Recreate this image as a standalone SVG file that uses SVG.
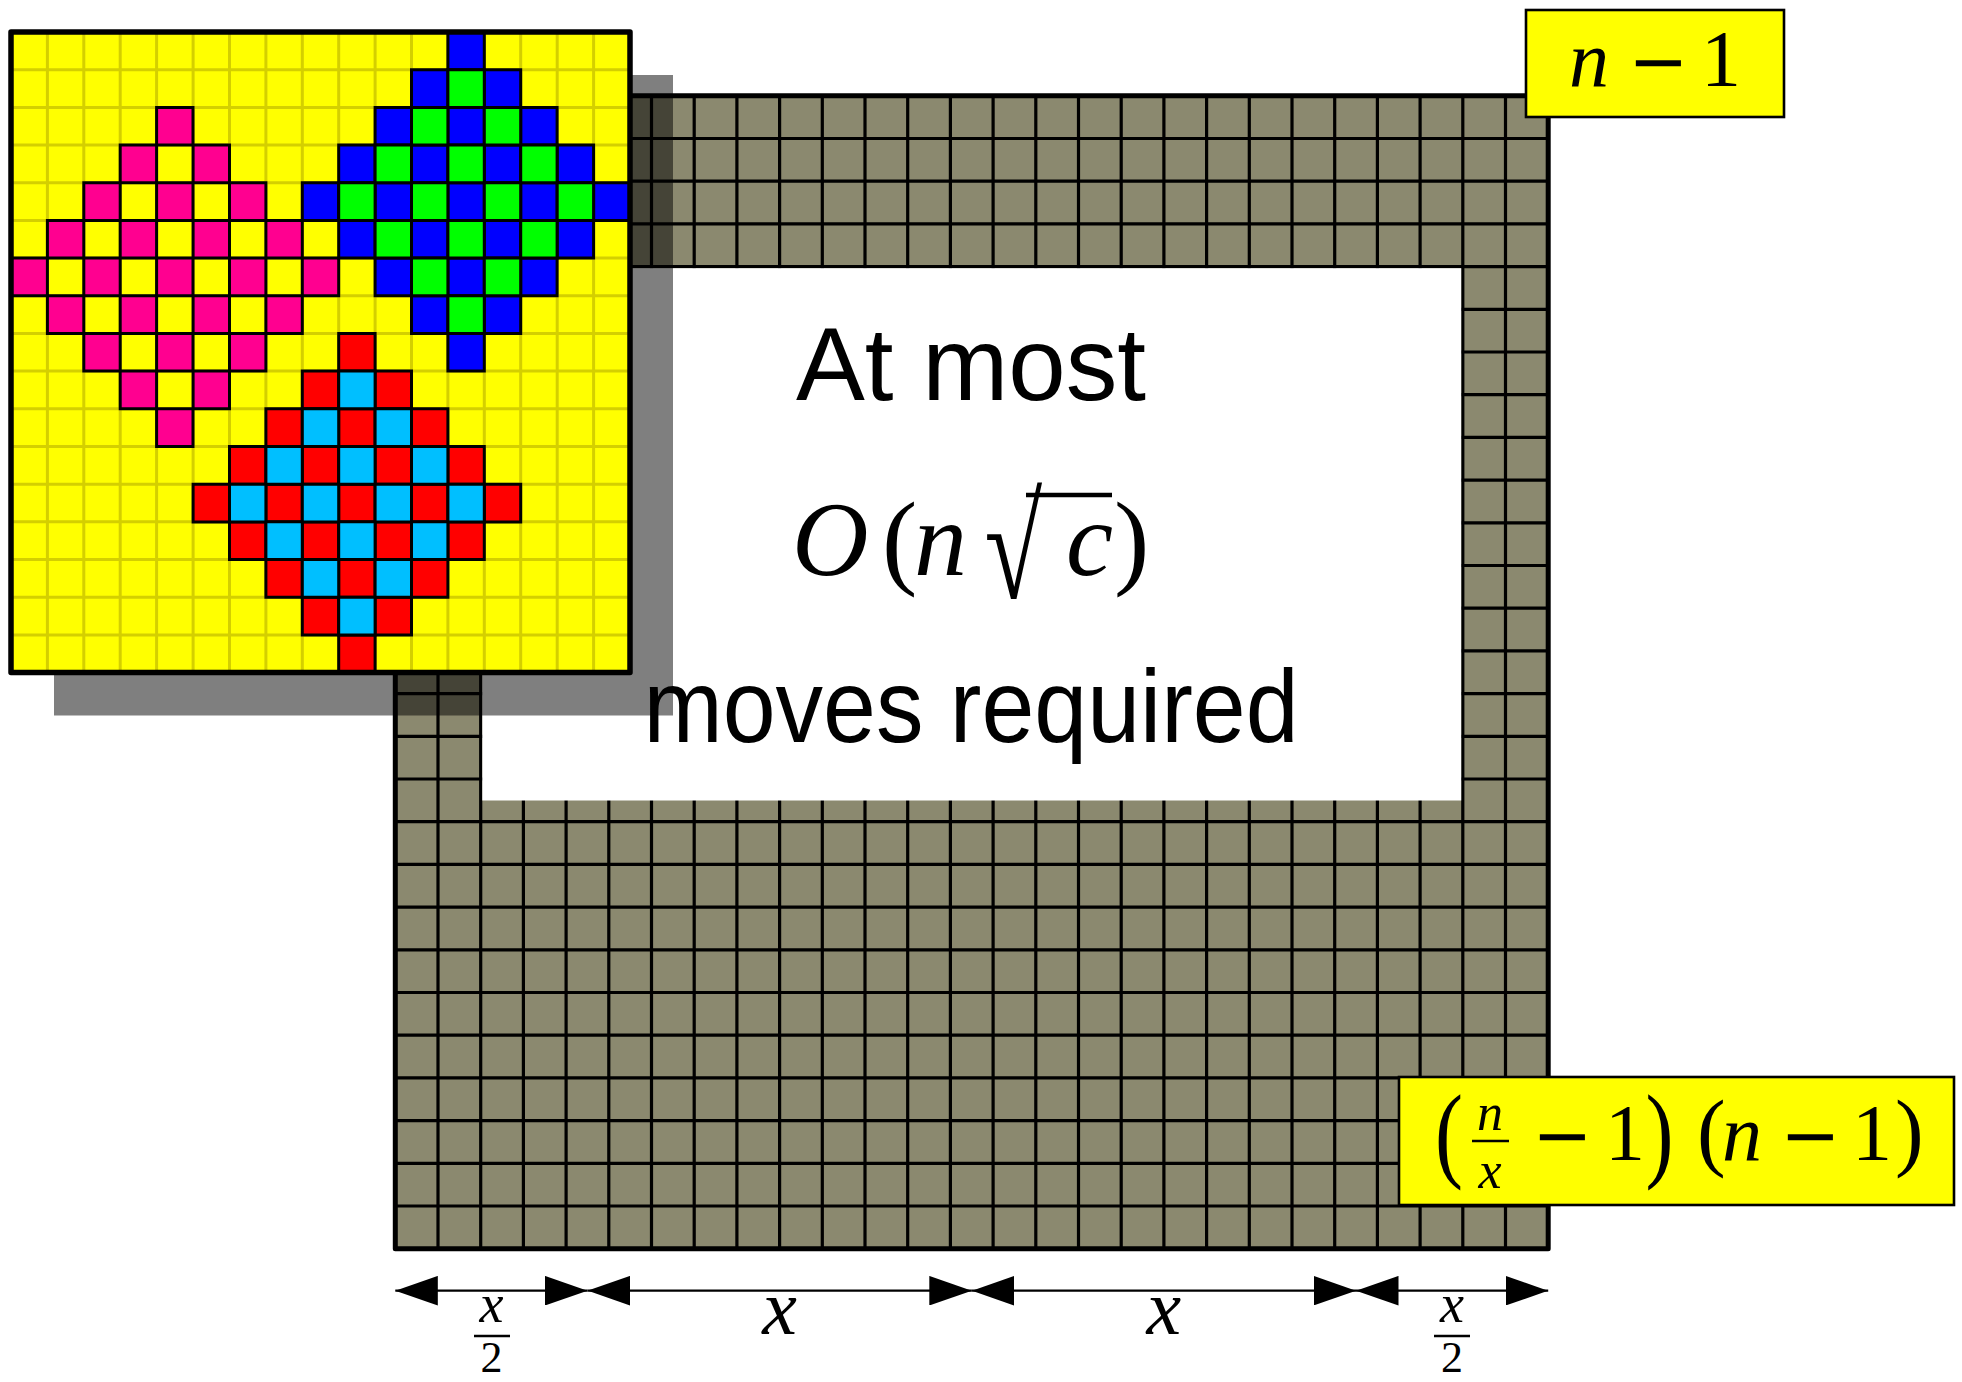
<svg xmlns="http://www.w3.org/2000/svg" width="1962" height="1382" viewBox="0 0 1962 1382">
<style>
.gl{fill:none;stroke:#000;stroke-width:3.2}
.yl{fill:none;stroke:#d4cf00;stroke-width:3}
.cell{stroke:#000;stroke-width:3}
.sans{font-family:"Liberation Sans",Arial,sans-serif;font-size:104px;fill:#000}
.m{font-family:"Liberation Serif","Times New Roman",serif;fill:#000}
.i{font-style:italic}
.op{font-family:"DejaVu Sans",sans-serif;font-size:72px;fill:#000}
.box{fill:#ffff00;stroke:#000;stroke-width:2.6}
.dim{stroke:#000;stroke-width:2.2;fill:none;marker-start:url(#ah);marker-end:url(#ah)}
</style>
<defs>
<marker id="ah" viewBox="0 0 42.5 29.6" refX="42.5" refY="14.8" markerWidth="42.5" markerHeight="29.6" markerUnits="userSpaceOnUse" orient="auto-start-reverse">
<path d="M0,0L42.5,14.8L0,29.6z" fill="#000"/>
</marker>
</defs>
<rect width="1962" height="1382" fill="#fff"/>

<g id="big-grid">
<rect x="395.3" y="95.8" width="1152.9" height="1152.9" fill="#8b896f"/>
<path class="gl" d="M438,95.8V1248.7M480.7,95.8V1248.7M523.4,95.8V1248.7M566.1,95.8V1248.7M608.8,95.8V1248.7M651.5,95.8V1248.7M694.2,95.8V1248.7M736.9,95.8V1248.7M779.6,95.8V1248.7M822.3,95.8V1248.7M865,95.8V1248.7M907.7,95.8V1248.7M950.4,95.8V1248.7M993.1,95.8V1248.7M1035.8,95.8V1248.7M1078.5,95.8V1248.7M1121.2,95.8V1248.7M1163.9,95.8V1248.7M1206.6,95.8V1248.7M1249.3,95.8V1248.7M1292,95.8V1248.7M1334.7,95.8V1248.7M1377.4,95.8V1248.7M1420.1,95.8V1248.7M1462.8,95.8V1248.7M1505.5,95.8V1248.7M395.3,138.5H1548.2M395.3,181.2H1548.2M395.3,223.9H1548.2M395.3,266.6H1548.2M395.3,309.3H1548.2M395.3,352H1548.2M395.3,394.7H1548.2M395.3,437.4H1548.2M395.3,480.1H1548.2M395.3,522.8H1548.2M395.3,565.5H1548.2M395.3,608.2H1548.2M395.3,650.9H1548.2M395.3,693.6H1548.2M395.3,736.3H1548.2M395.3,779H1548.2M395.3,821.7H1548.2M395.3,864.4H1548.2M395.3,907.1H1548.2M395.3,949.8H1548.2M395.3,992.5H1548.2M395.3,1035.2H1548.2M395.3,1077.9H1548.2M395.3,1120.6H1548.2M395.3,1163.3H1548.2M395.3,1206H1548.2"/>
<rect x="482.3" y="268.2" width="978.9" height="532.3" fill="#fff"/>
<rect x="395.3" y="95.8" width="1152.9" height="1152.9" fill="none" stroke="#000" stroke-width="5" stroke-linejoin="round"/>
</g>

<g id="center-text">
<text class="sans" x="971" y="400" text-anchor="middle" textLength="350" lengthAdjust="spacingAndGlyphs">At most</text>
<text class="m i" x="792" y="575" font-size="106">O</text>
<text class="m" x="882" y="575" font-size="106">(</text>
<text class="m i" x="914" y="575" font-size="106">n</text>
<text class="m" x="0" y="0" font-size="146" transform="translate(984.4,598) scale(0.72,1)">√</text>
<line x1="1026" y1="495" x2="1112" y2="495" stroke="#000" stroke-width="4.5"/>
<text class="m i" x="1066" y="575" font-size="106">c</text>
<text class="m" x="1114" y="575" font-size="106">)</text>
<text class="sans" x="971" y="742" text-anchor="middle" textLength="655" lengthAdjust="spacingAndGlyphs">moves required</text>
</g>

<rect id="inset-shadow" x="54" y="75" width="619" height="640.5" fill="#000" fill-opacity="0.5"/>

<g id="inset">
<rect x="11" y="32" width="619" height="640.6" fill="#ffff00"/>
<path class="yl" d="M47.4,32V672.6M83.8,32V672.6M120.2,32V672.6M156.6,32V672.6M193.1,32V672.6M229.5,32V672.6M265.9,32V672.6M302.3,32V672.6M338.7,32V672.6M375.1,32V672.6M411.5,32V672.6M447.9,32V672.6M484.3,32V672.6M520.7,32V672.6M557.2,32V672.6M593.6,32V672.6M11,69.7H630M11,107.4H630M11,145H630M11,182.7H630M11,220.4H630M11,258.1H630M11,295.8H630M11,333.4H630M11,371.1H630M11,408.8H630M11,446.5H630M11,484.2H630M11,521.8H630M11,559.5H630M11,597.2H630M11,634.9H630"/>
<path class="cell" fill="#ff0090" d="M156.6,258.1h36.4v37.7h-36.4zM83.8,258.1h36.4v37.7h-36.4zM229.5,258.1h36.4v37.7h-36.4zM11,258.1h36.4v37.7h-36.4zM302.3,258.1h36.4v37.7h-36.4zM156.6,182.7h36.4v37.7h-36.4zM83.8,182.7h36.4v37.7h-36.4zM229.5,182.7h36.4v37.7h-36.4zM156.6,333.4h36.4v37.7h-36.4zM83.8,333.4h36.4v37.7h-36.4zM229.5,333.4h36.4v37.7h-36.4zM120.2,220.4h36.4v37.7h-36.4zM193.1,220.4h36.4v37.7h-36.4zM47.4,220.4h36.4v37.7h-36.4zM265.9,220.4h36.4v37.7h-36.4zM120.2,295.8h36.4v37.7h-36.4zM193.1,295.8h36.4v37.7h-36.4zM47.4,295.8h36.4v37.7h-36.4zM265.9,295.8h36.4v37.7h-36.4zM156.6,107.4h36.4v37.7h-36.4zM156.6,408.8h36.4v37.7h-36.4zM120.2,145h36.4v37.7h-36.4zM193.1,145h36.4v37.7h-36.4zM120.2,371.1h36.4v37.7h-36.4zM193.1,371.1h36.4v37.7h-36.4z"/>
<path class="cell" fill="#0000ff" d="M447.9,32h36.4v37.7h-36.4zM411.5,69.7h36.4v37.7h-36.4zM484.3,69.7h36.4v37.7h-36.4zM375.1,107.4h36.4v37.7h-36.4zM447.9,107.4h36.4v37.7h-36.4zM520.7,107.4h36.4v37.7h-36.4zM338.7,145h36.4v37.7h-36.4zM411.5,145h36.4v37.7h-36.4zM484.3,145h36.4v37.7h-36.4zM557.2,145h36.4v37.7h-36.4zM302.3,182.7h36.4v37.7h-36.4zM375.1,182.7h36.4v37.7h-36.4zM447.9,182.7h36.4v37.7h-36.4zM520.7,182.7h36.4v37.7h-36.4zM593.6,182.7h36.4v37.7h-36.4zM338.7,220.4h36.4v37.7h-36.4zM411.5,220.4h36.4v37.7h-36.4zM484.3,220.4h36.4v37.7h-36.4zM557.2,220.4h36.4v37.7h-36.4zM375.1,258.1h36.4v37.7h-36.4zM447.9,258.1h36.4v37.7h-36.4zM520.7,258.1h36.4v37.7h-36.4zM411.5,295.8h36.4v37.7h-36.4zM484.3,295.8h36.4v37.7h-36.4zM447.9,333.4h36.4v37.7h-36.4z"/>
<path class="cell" fill="#00ff00" d="M447.9,69.7h36.4v37.7h-36.4zM411.5,107.4h36.4v37.7h-36.4zM484.3,107.4h36.4v37.7h-36.4zM375.1,145h36.4v37.7h-36.4zM447.9,145h36.4v37.7h-36.4zM520.7,145h36.4v37.7h-36.4zM338.7,182.7h36.4v37.7h-36.4zM411.5,182.7h36.4v37.7h-36.4zM484.3,182.7h36.4v37.7h-36.4zM557.2,182.7h36.4v37.7h-36.4zM375.1,220.4h36.4v37.7h-36.4zM447.9,220.4h36.4v37.7h-36.4zM520.7,220.4h36.4v37.7h-36.4zM411.5,258.1h36.4v37.7h-36.4zM484.3,258.1h36.4v37.7h-36.4zM447.9,295.8h36.4v37.7h-36.4z"/>
<path class="cell" fill="#ff0000" d="M338.7,333.4h36.4v37.7h-36.4zM302.3,371.1h36.4v37.7h-36.4zM375.1,371.1h36.4v37.7h-36.4zM265.9,408.8h36.4v37.7h-36.4zM338.7,408.8h36.4v37.7h-36.4zM411.5,408.8h36.4v37.7h-36.4zM229.5,446.5h36.4v37.7h-36.4zM302.3,446.5h36.4v37.7h-36.4zM375.1,446.5h36.4v37.7h-36.4zM447.9,446.5h36.4v37.7h-36.4zM193.1,484.2h36.4v37.7h-36.4zM265.9,484.2h36.4v37.7h-36.4zM338.7,484.2h36.4v37.7h-36.4zM411.5,484.2h36.4v37.7h-36.4zM484.3,484.2h36.4v37.7h-36.4zM229.5,521.8h36.4v37.7h-36.4zM302.3,521.8h36.4v37.7h-36.4zM375.1,521.8h36.4v37.7h-36.4zM447.9,521.8h36.4v37.7h-36.4zM265.9,559.5h36.4v37.7h-36.4zM338.7,559.5h36.4v37.7h-36.4zM411.5,559.5h36.4v37.7h-36.4zM302.3,597.2h36.4v37.7h-36.4zM375.1,597.2h36.4v37.7h-36.4zM338.7,634.9h36.4v37.7h-36.4z"/>
<path class="cell" fill="#00bfff" d="M338.7,371.1h36.4v37.7h-36.4zM302.3,408.8h36.4v37.7h-36.4zM375.1,408.8h36.4v37.7h-36.4zM265.9,446.5h36.4v37.7h-36.4zM338.7,446.5h36.4v37.7h-36.4zM411.5,446.5h36.4v37.7h-36.4zM229.5,484.2h36.4v37.7h-36.4zM302.3,484.2h36.4v37.7h-36.4zM375.1,484.2h36.4v37.7h-36.4zM447.9,484.2h36.4v37.7h-36.4zM265.9,521.8h36.4v37.7h-36.4zM338.7,521.8h36.4v37.7h-36.4zM411.5,521.8h36.4v37.7h-36.4zM302.3,559.5h36.4v37.7h-36.4zM375.1,559.5h36.4v37.7h-36.4zM338.7,597.2h36.4v37.7h-36.4z"/>
<rect x="11" y="32" width="619" height="640.6" fill="none" stroke="#000" stroke-width="5.5" stroke-linejoin="round"/>
</g>

<g id="label-row">
<rect class="box" x="1526" y="10" width="258" height="107"/>
<text class="m i" x="1569" y="86" font-size="80">n</text>
<text class="op" x="1628" y="86">−</text>
<text class="m" x="1701" y="86" font-size="80">1</text>
</g>

<g id="label-area">
<rect class="box" x="1399" y="1077" width="555" height="128"/>
<text class="m" x="0" y="0" font-size="84" transform="translate(1435,1168) scale(1,1.25)">(</text>
<text class="m i" x="1490" y="1130" font-size="52" text-anchor="middle">n</text>
<line x1="1472" y1="1141" x2="1509" y2="1141" stroke="#000" stroke-width="2.6"/>
<text class="m i" x="1490" y="1188" font-size="52" text-anchor="middle">x</text>
<text class="op" x="1532" y="1160">−</text>
<text class="m" x="1605" y="1160" font-size="80">1</text>
<text class="m" x="0" y="0" font-size="84" transform="translate(1645.5,1168) scale(1,1.25)">)</text>
<text class="m" x="1697" y="1160" font-size="86">(</text>
<text class="m i" x="1722" y="1160" font-size="80">n</text>
<text class="op" x="1780" y="1160">−</text>
<text class="m" x="1852" y="1160" font-size="80">1</text>
<text class="m" x="1895" y="1160" font-size="86">)</text>
</g>

<g id="connectors">
<line class="dim" x1="395.3" y1="1290.7" x2="587.5" y2="1290.7"/>
<line class="dim" x1="587.5" y1="1290.7" x2="971.8" y2="1290.7"/>
<line class="dim" x1="971.8" y1="1290.7" x2="1356" y2="1290.7"/>
<line class="dim" x1="1356" y1="1290.7" x2="1548.2" y2="1290.7"/>
</g>

<g id="dim-labels">
<text class="m i" x="491.4" y="1322" font-size="54" text-anchor="middle">x</text>
<line x1="474" y1="1336" x2="510" y2="1336" stroke="#000" stroke-width="2.7"/>
<text class="m" x="491.4" y="1372" font-size="44" text-anchor="middle">2</text>
<text class="m i" x="779.6" y="1334" font-size="78" text-anchor="middle">x</text>
<text class="m i" x="1163.9" y="1334" font-size="78" text-anchor="middle">x</text>
<text class="m i" x="1452.1" y="1322" font-size="54" text-anchor="middle">x</text>
<line x1="1434" y1="1336" x2="1470" y2="1336" stroke="#000" stroke-width="2.7"/>
<text class="m" x="1452.1" y="1372" font-size="44" text-anchor="middle">2</text>
</g>
</svg>
